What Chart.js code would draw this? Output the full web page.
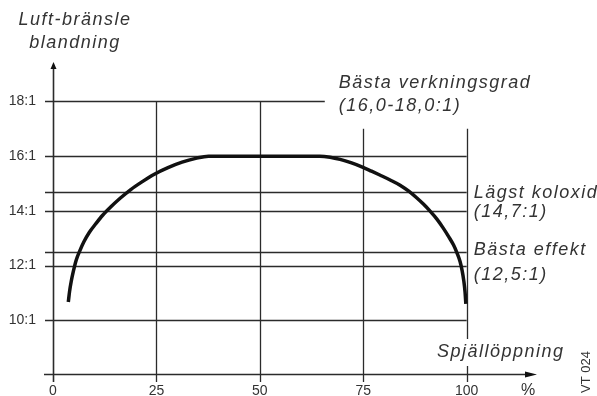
<!DOCTYPE html>
<html>
<head>
<meta charset="utf-8">
<script src="https://cdn.jsdelivr.net/npm/chart.js@4"></script>
<style>
body { margin: 0; background: #fff; }
</style>
</head>
<body>
<canvas id="myChart" width="597" height="396"></canvas>
<script>
// damper opening (%) and air-fuel ratio
var opening = [3.7, 4.0, 4.4, 4.9, 5.6, 6.5, 7.5, 8.8, 10.3, 12.0, 14.0, 16.3, 18.8, 21.5, 24.5, 27.8, 31.2, 34.5, 37.6, 50, 64.5,
               67, 69.4, 72, 74.8, 77, 79, 81.5, 83.9, 86, 87.9, 89.6, 91.1, 92.8, 94.3, 95.6, 96.8, 97.7, 98.4, 98.9, 99.3, 99.6, 99.8];
var ratio = [10.67, 11.05, 11.42, 11.78, 12.2, 12.55, 12.88, 13.22, 13.52, 13.84, 14.15, 14.47, 14.78, 15.06, 15.34, 15.58, 15.78, 15.92, 16.0, 16.0, 16.0,
             15.96, 15.88, 15.76, 15.6, 15.45, 15.31, 15.13, 14.94, 14.72, 14.48, 14.24, 14.0, 13.7, 13.38, 13.07, 12.76, 12.45, 12.15, 11.82, 11.45, 11.05, 10.6];

// horizontal reference lines (ratio) and where they stop (opening %)
var ratioLines = [18, 16, 14.7, 14, 12.5, 12, 10];
var ratioLineEnds = [65.7, 100, 100, 100, 100, 100, 100];
// vertical reference lines (opening %) and their top (ratio)
var openingLines = [25, 50, 75, 100];
var openingLineTops = [18, 18, 17, 17];

// tick labels
var yTicks = [18, 16, 14, 12, 10];
var yTickLabels = ['18:1', '16:1', '14:1', '12:1', '10:1'];
var xTicks = [0, 25, 50, 75, 100];
var xTickLabels = ['0', '25', '50', '75', '100'];

var ink = '#2b2b2b';
var italic = 'italic 18px "Liberation Sans", Arial, sans-serif';

function txt(ctx, s, x, y, font, align, spacing) {
    ctx.font = font;
    ctx.textAlign = align;
    ctx.textBaseline = 'middle';
    ctx.letterSpacing = spacing || '0px';
    ctx.fillStyle = '#333';
    ctx.fillText(s, x, y);
    ctx.letterSpacing = '0px';
}

//draws the diagram frame, lines and labels using the chart scales
var diagram = {
    id: 'diagram',
    beforeDatasetsDraw: function(chart) {
        var ctx = chart.ctx;
        var xs = chart.scales.x, ys = chart.scales.y;
        var area = chart.chartArea;
        var x0 = xs.getPixelForValue(0);
        var yb = area.bottom;
        ctx.save();
        ctx.strokeStyle = ink;
        ctx.lineWidth = 1.3;

        //horizontal lines
        ratioLines.forEach(function(v, i) {
            var y = Math.round(ys.getPixelForValue(v)) + 0.5;
            ctx.beginPath();
            ctx.moveTo(x0 - 8, y);
            ctx.lineTo(xs.getPixelForValue(ratioLineEnds[i]), y);
            ctx.stroke();
        });

        //vertical lines
        openingLines.forEach(function(v, i) {
            var x = Math.round(xs.getPixelForValue(v)) + 0.5;
            var top = ys.getPixelForValue(openingLineTops[i]);
            ctx.beginPath();
            if (v === 100) {
                ctx.moveTo(x, top);
                ctx.lineTo(x, yb - 35);
                ctx.moveTo(x, yb - 8);
                ctx.lineTo(x, yb + 8);
            } else {
                ctx.moveTo(x, top);
                ctx.lineTo(x, yb + 8);
            }
            ctx.stroke();
        });

        //axes
        ctx.lineWidth = 1.6;
        ctx.beginPath();
        ctx.moveTo(x0 + 0.5, area.top + 4);
        ctx.lineTo(x0 + 0.5, yb + 8);
        ctx.moveTo(x0 - 9, yb + 0.5);
        ctx.lineTo(area.right - 6, yb + 0.5);
        ctx.stroke();

        //arrow heads
        ctx.fillStyle = '#111';
        ctx.beginPath();
        ctx.moveTo(x0 + 0.5, area.top);
        ctx.lineTo(x0 + 3.5, area.top + 7);
        ctx.lineTo(x0 - 2.5, area.top + 7);
        ctx.closePath();
        ctx.fill();
        ctx.beginPath();
        ctx.moveTo(area.right, yb + 0.5);
        ctx.lineTo(area.right - 12, yb + 3.5);
        ctx.lineTo(area.right - 12, yb - 2.5);
        ctx.closePath();
        ctx.fill();

        //tick labels
        var tickFont = '14px "Liberation Sans", Arial, sans-serif';
        yTicks.forEach(function(v, i) {
            txt(ctx, yTickLabels[i], x0 - 17, ys.getPixelForValue(v), tickFont, 'right');
        });
        xTicks.forEach(function(v, i) {
            txt(ctx, xTickLabels[i], xs.getPixelForValue(v), yb + 17, tickFont, 'center');
        });
        txt(ctx, '%', area.right - 9, yb + 17, '16px "Liberation Sans", Arial, sans-serif', 'center');

        //axis titles
        var sp = '1.5px';
        txt(ctx, 'Luft-bränsle', x0 + 22, 20, italic, 'center', sp);
        txt(ctx, 'blandning', x0 + 22, 43, italic, 'center', sp);
        var xr = xs.getPixelForValue(100);
        txt(ctx, 'Spjällöppning', xr + 34, yb - 22, italic, 'center', sp);

        //notes
        var xn = xs.getPixelForValue(ratioLineEnds[0]) + 14;
        txt(ctx, 'Bästa verkningsgrad', xn, ys.getPixelForValue(18) - 18, italic, 'left', sp);
        txt(ctx, '(16,0-18,0:1)', xn, ys.getPixelForValue(18) + 5, italic, 'left', sp);
        txt(ctx, 'Lägst koloxid', xr + 7, ys.getPixelForValue(14.7) + 1, italic, 'left', sp);
        txt(ctx, '(14,7:1)', xr + 7, ys.getPixelForValue(14) + 1, italic, 'left', sp);
        txt(ctx, 'Bästa effekt', xr + 7, ys.getPixelForValue(12.5) - 2, italic, 'left', sp);
        txt(ctx, '(12,5:1)', xr + 7, ys.getPixelForValue(12) + 9, italic, 'left', sp);

        //figure code
        ctx.save();
        ctx.translate(586, yb - 2);
        ctx.rotate(-Math.PI / 2);
        txt(ctx, 'VT 024', 0, 0, '13px "Liberation Sans", Arial, sans-serif', 'center');
        ctx.restore();

        ctx.restore();
    }
};

var ctx = document.getElementById('myChart').getContext('2d');

var myChart = new Chart(ctx, {
    type: 'line',
    data: {
        datasets: [{
            label: 'Luft-bränsleblandning',
            data: opening.map(function(o, i) { return { x: o, y: ratio[i] }; }),
            borderColor: '#111',
            borderWidth: 3.5,
            pointRadius: 0,
            cubicInterpolationMode: 'monotone',
            fill: false
        }]
    },
    options: {
        responsive: false,
        animation: false,
        layout: {
            padding: { left: 53, right: 60, top: 62, bottom: 22 }
        },
        plugins: {
            legend: { display: false },
            tooltip: { enabled: false }
        },
        scales: {
            x: { type: 'linear', min: 0, max: 117, display: false },
            y: { min: 8.04, max: 19.44, display: false }
        }
    },
    plugins: [diagram]
});
</script>
</body>
</html>
